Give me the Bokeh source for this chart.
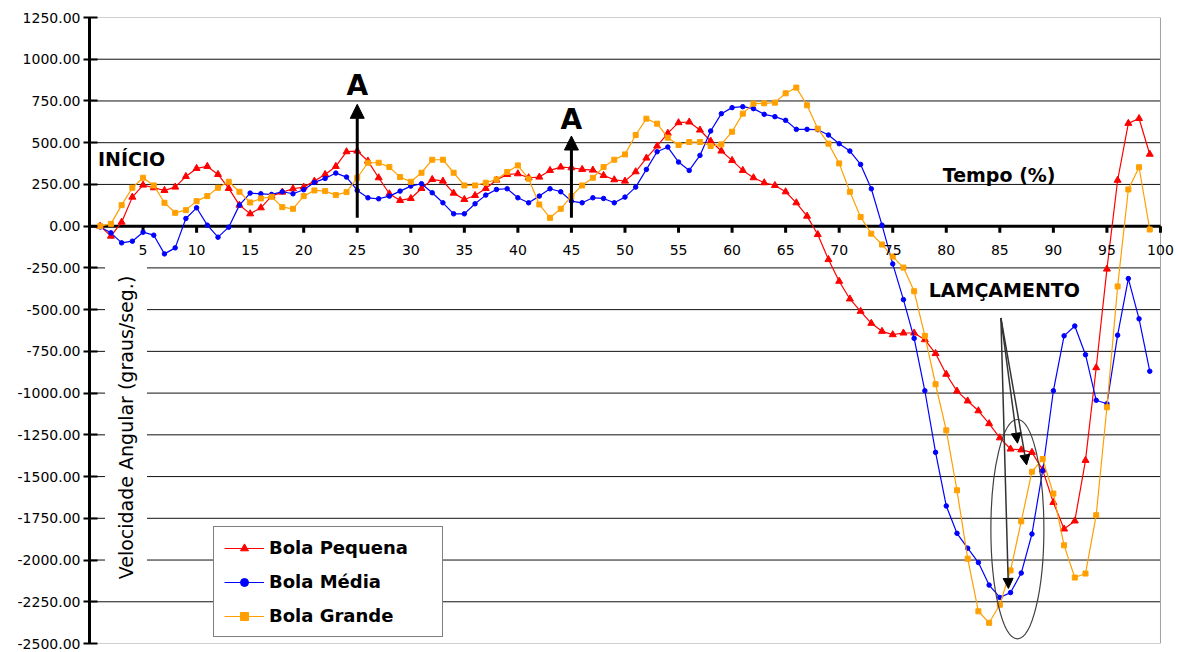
import math
from bokeh.plotting import figure
from bokeh.models import (FixedTicker, Span, Label, LabelSet, Arrow, NormalHead, Legend,
                          LegendItem, ColumnDataSource, Range1d)
from bokeh.core.properties import value
from bokeh.embed import file_html
from bokeh.resources import INLINE

# ---------------- data ----------------
tempo = list(range(1, 100))

bola_pequena = [0, -60, 24, 174, 246, 230, 214, 234, 298, 346,
                358, 310, 226, 126, 74, 110, 180, 204, 224, 234,
                270, 310, 358, 446, 450, 390, 290, 194, 154, 166,
                226, 280, 270, 198, 160, 184, 226, 276, 310, 314,
                290, 294, 334, 354, 350, 340, 336, 304, 278, 270,
                326, 408, 480, 557, 620, 624, 576, 510, 450, 394,
                334, 290, 260, 244, 206, 140, 60, -50, -200, -330,
                -436, -510, -582, -630, -650, -640, -640, -680, -763, -887,
                -988, -1047, -1106, -1183, -1268, -1335, -1340, -1355, -1460, -1655,
                -1814, -1766, -1403, -848, -257, 275, 616, 645, 431]

bola_media = [-5, -40, -100, -90, -36, -54, -166, -130, 46, 110,
              6, -66, -6, 126, 198, 194, 190, 206, 194, 218,
              262, 286, 318, 294, 214, 170, 164, 180, 210, 240,
              254, 200, 140, 74, 74, 134, 186, 220, 224, 170,
              140, 180, 224, 206, 150, 140, 170, 166, 140, 174,
              234, 340, 446, 474, 384, 334, 424, 570, 674, 710,
              716, 704, 670, 656, 634, 580, 580, 578, 546, 494,
              450, 370, 224, 6, -226, -440, -672, -986, -1355, -1676,
              -1840, -1929, -2015, -2150, -2224, -2195, -2078, -1844, -1465, -986,
              -657, -598, -770, -1043, -1064, -653, -314, -555, -869]

bola_grande = [0, 14, 126, 230, 290, 244, 140, 80, 96, 150,
               180, 230, 266, 206, 142, 166, 176, 114, 104, 180,
               214, 210, 186, 204, 290, 380, 380, 354, 294, 266,
               320, 398, 398, 320, 244, 244, 260, 280, 324, 364,
               284, 130, 50, 104, 180, 244, 290, 354, 398, 430,
               546, 644, 614, 530, 486, 504, 504, 480, 490, 566,
               674, 734, 736, 740, 796, 830, 724, 584, 494, 376,
               206, 55, -45, -110, -182, -248, -390, -657, -947, -1223,
               -1582, -1992, -2307, -2376, -2268, -2062, -1768, -1471, -1395, -1602,
               -1912, -2105, -2081, -1731, -1085, -361, 220, 353, -20]

series_names = ["Bola Pequena", "Bola Média", "Bola Grande"]

y_ticks = [1250, 1000, 750, 500, 250, 0, -250, -500, -750, -1000,
           -1250, -1500, -1750, -2000, -2250, -2500]
y_tick_labels = ["1250.00", "1000.00", "750.00", "500.00", "250.00", "0.00",
                 "-250.00", "-500.00", "-750.00", "-1000.00", "-1250.00",
                 "-1500.00", "-1750.00", "-2000.00", "-2250.00", "-2500.00"]

x_ticks = [5, 10, 15, 20, 25, 30, 35, 40, 45, 50, 55, 60, 65, 70, 75, 80, 85, 90, 95, 100]
x_tick_labels = [str(t) for t in x_ticks]

X_MIN, X_MAX = 0, 100
Y_MIN, Y_MAX = -2500, 1250

# ---------------- figure ----------------
# frame extends a little past x=100 so the "100" tick label is not clipped
p = figure(width=1178, height=652, x_range=Range1d(X_MIN, 101.31),
           y_range=Range1d(Y_MIN, Y_MAX),
           x_axis_location=None, output_backend="svg", toolbar_location=None,
           min_border_left=89, min_border_right=4, min_border_top=17,
           min_border_bottom=9)
p.background_fill_color = "white"
p.border_fill_color = "white"
p.outline_line_color = None

p.xgrid.visible = False
p.ygrid.visible = False

yax = p.yaxis[0]
yax.ticker = FixedTicker(ticks=y_ticks)
yax.major_label_overrides = {t: l for t, l in zip(y_ticks, y_tick_labels)}
yax.axis_line_width = 3
yax.axis_line_color = "black"
yax.major_tick_line_width = 2
yax.major_tick_line_color = "black"
yax.major_tick_out = 6
yax.major_tick_in = 8
yax.minor_tick_line_color = None
yax.major_label_standoff = 3
yax.major_label_text_font = "DejaVu Sans"
yax.major_label_text_font_size = "14px"
yax.major_label_text_color = "black"

# horizontal grid lines (interior black, border gray) limited to x in [0, 100]
inner = y_ticks[1:-1]
p.segment(x0=[X_MIN] * len(inner), y0=inner, x1=[X_MAX] * len(inner), y1=inner,
          line_color="#111111", line_width=1)
p.segment(x0=[X_MIN, X_MIN, X_MAX], y0=[Y_MAX, Y_MIN, Y_MIN],
          x1=[X_MAX, X_MAX, X_MAX], y1=[Y_MAX, Y_MIN, Y_MAX],
          line_color="#a0a0a0", line_width=1)

# x axis drawn at y = 0
p.segment(x0=[X_MIN], y0=[0], x1=[X_MAX], y1=[0], line_color="black", line_width=3)
p.segment(x0=x_ticks, y0=[0] * len(x_ticks), x1=x_ticks, y1=[-40] * len(x_ticks),
          line_color="black", line_width=3)
tick_src = ColumnDataSource(data=dict(x=x_ticks, y=[0] * len(x_ticks), t=x_tick_labels))
p.add_layout(LabelSet(x="x", y="y", text="t", source=tick_src, text_align="center",
                      text_baseline="middle", y_offset=-24,
                      text_font=value("DejaVu Sans"), text_font_size=value("14px"),
                      text_color="black"))

# ---------------- series ----------------
colors = ["#FF0000", "#0000FF", "#FFA000"]
markers = ["triangle", "circle", "square"]
sizes = [7, 4.5, 5]
items = []
for name, ys, c, m, s in zip(series_names, [bola_pequena, bola_media, bola_grande],
                             colors, markers, sizes):
    rl = p.line(tempo, ys, line_color=c, line_width=1.2)
    rs = p.scatter(tempo, ys, marker=m, size=s, fill_color=c, line_color=c)
    items.append(LegendItem(label=name, renderers=[rl, rs]))

legend = Legend(items=items, location=(124, 6), margin=0, padding=10,
                spacing=13, label_height=20, glyph_height=20, glyph_width=40,
                label_standoff=5, label_width=163,
                label_text_font="DejaVu Sans", label_text_font_style="bold",
                label_text_font_size="18px", label_text_color="black",
                border_line_color="black", border_line_width=1,
                background_fill_color="white", background_fill_alpha=1)
p.add_layout(legend)

# ---------------- annotations ----------------
title = Label(x=3.41, y=-1206, text="Velocidade Angular (graus/seg.)",
              angle=math.pi / 2, text_align="center", text_baseline="middle",
              text_font="DejaVu Sans", text_font_size="19px", text_color="black",
              background_fill_color="white", background_fill_alpha=1, padding=10)
p.add_layout(title)

for txt, lx, ly in [("INÍCIO", 0.79, 402), ("Tempo (%)", 79.67, 309),
                    ("LAMÇAMENTO", 78.36, -384)]:
    p.add_layout(Label(x=lx, y=ly, text=txt, text_align="left",
                       text_baseline="middle", text_font="DejaVu Sans",
                       text_font_style="bold", text_font_size="19px",
                       text_color="black"))

for ax, ytop, ya in [(25, 730, 840), (45, 540, 640)]:
    p.add_layout(Arrow(end=NormalHead(size=14, fill_color="black", line_color="black"),
                       x_start=ax, y_start=50, x_end=ax, y_end=ytop,
                       line_color="black", line_width=3))
    p.add_layout(Label(x=ax, y=ya, text="A", text_align="center",
                       text_baseline="middle", text_font="DejaVu Sans",
                       text_font_style="bold", text_font_size="28px",
                       text_color="black"))

for tx, ty in [(86.65, -1300), (87.5, -1430), (85.8, -2170)]:
    p.add_layout(Arrow(end=NormalHead(size=10, fill_color="black", line_color="black"),
                       x_start=85.1, y_start=-550, x_end=tx, y_end=ty,
                       line_color="#333333", line_width=1.5))

p.ellipse(x=[86.64], y=[-1815], width=[4.95], height=[1314],
          fill_alpha=0, line_color="#404040", line_width=1.2)

open("out.html", "w").write(file_html(p, INLINE))
